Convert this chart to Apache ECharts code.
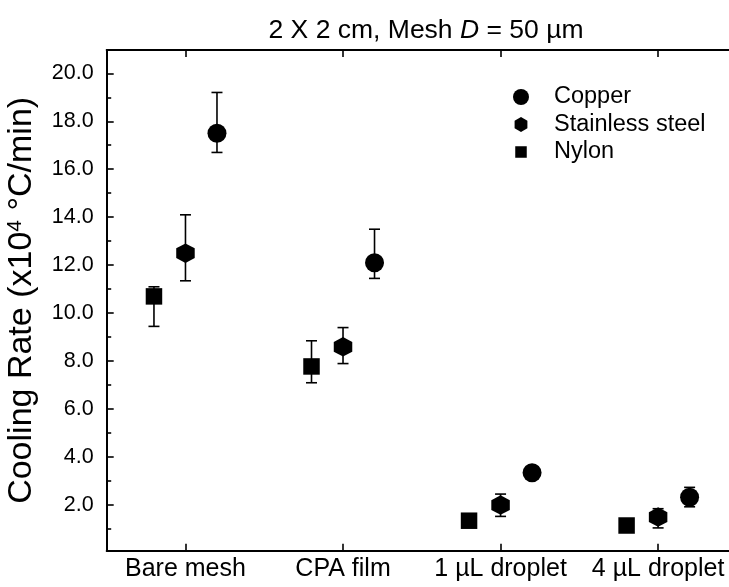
<!DOCTYPE html>
<html><head><meta charset="utf-8">
<script src="https://cdn.jsdelivr.net/npm/echarts@6/dist/echarts.min.js"></script>
<style>html,body{margin:0;padding:0;background:#fff}#c{width:729px;height:587px}</style>
</head><body><div id="c"></div>
<script>
// ---- data ----
const categories = ['Bare mesh', 'CPA film', '1 µL droplet', '4 µL droplet'];
const yTickValues = [2, 4, 6, 8, 10, 12, 14, 16, 18, 20];
const yMinorTickValues = [1, 3, 5, 7, 9, 11, 13, 15, 17, 19];
const copper = [17.5, 12.1, 3.35, 2.33];
const copperHigh = [19.2, 13.5, 3.35, 2.74];
const copperLow = [16.7, 11.45, 3.35, 1.93];
const stainless = [12.5, 8.6, 2.0, 1.5];
const stainlessHigh = [14.1, 9.4, 2.46, 1.85];
const stainlessLow = [11.35, 7.9, 1.53, 1.05];
const nylon = [10.7, 7.78, 1.35, 1.15];
const nylonHigh = [11.1, 8.85, 1.35, 1.15];
const nylonLow = [9.45, 7.1, 1.35, 1.15];

// ---- style ----
const FONT = "'Liberation Sans', Arial, sans-serif";
const HEX = 'path://M0,-1 L0.866,-0.5 L0.866,0.5 L0,1 L-0.866,0.5 L-0.866,-0.5 Z';
const HEX_LEG = 'path://M-1,-1 M1,1 M0,-0.95 L0.8,-0.48 L0.8,0.48 L0,0.95 L-0.8,0.48 L-0.8,-0.48 Z';
const SQ_LEG = 'path://M-1,-1 M1,1 M-0.72,-0.72 L0.72,-0.72 L0.72,0.72 L-0.72,0.72 Z';
const CIR_LEG = 'circle';
const offsets = { Nylon: -0.2, 'Stainless steel': 0, Copper: 0.2 };

function pts(vals, off) { return vals.map((v, i) => [i + 1 + off, v]); }
function errs(lo, hi, off) { return lo.map((l, i) => [i + 1 + off, l, hi[i]]); }

function errRenderItem(params, api) {
  const x = api.value(0), lo = api.value(1), hi = api.value(2);
  if (lo === hi) return null;
  const a = api.coord([x, hi]), b = api.coord([x, lo]);
  const hw = 5.5;
  const st = { stroke: '#000', lineWidth: 1.6 };
  return { type: 'group', children: [
    { type: 'line', shape: { x1: a[0], y1: a[1], x2: b[0], y2: b[1] }, style: st },
    { type: 'line', shape: { x1: a[0] - hw, y1: a[1], x2: a[0] + hw, y2: a[1] }, style: st },
    { type: 'line', shape: { x1: b[0] - hw, y1: b[1], x2: b[0] + hw, y2: b[1] }, style: st }
  ]};
}

const chart = echarts.init(document.getElementById('c'), null, { renderer: 'canvas' });
const axisLine = { show: true, lineStyle: { color: '#000', width: 2 } };
const xTickVals = categories.map((c, i) => i + 1);

chart.setOption({
  animation: false,
  backgroundColor: '#fff',
  textStyle: { fontFamily: FONT },
  title: {
    left: 421, top: 12, textAlign: 'center',
    text: '{a|2 X 2 cm, Mesh }{i|D}{a| = 50 µm}',
    textStyle: { fontWeight: 'normal', rich: {
      a: { fontSize: 26.5, color: '#000', fontFamily: FONT, fontWeight: 'normal' },
      i: { fontSize: 26.5, color: '#000', fontFamily: FONT, fontWeight: 'normal', fontStyle: 'italic' }
    } }
  },
  legend: {
    orient: 'vertical', left: 508, top: 80,
    itemWidth: 16, itemHeight: 16, itemGap: 3.5,
    textStyle: { fontSize: 23.5, color: '#000', fontFamily: FONT, lineHeight: 16, padding: [0, 0, 0, 20] },
    data: [
      { name: 'Copper', icon: CIR_LEG },
      { name: 'Stainless steel', icon: HEX_LEG },
      { name: 'Nylon', icon: SQ_LEG }
    ]
  },
  grid: { left: 106.7, right: 0, top: 50, bottom: 36.3, containLabel: false, outerBoundsMode: 'none' },
  xAxis: [
    {
      type: 'value', min: 0.5, max: 4.45, position: 'bottom',
      splitLine: { show: false }, axisLine: axisLine,
      axisTick: { show: true, inside: true, length: 7, lineStyle: { color: '#000', width: 1.6 },
                  customValues: xTickVals },
      axisLabel: { show: true, margin: 6, fontSize: 25, color: '#000', fontFamily: FONT,
                   customValues: xTickVals,
                   formatter: v => categories[Math.round(v) - 1] || '' }
    },
    {
      type: 'value', min: 0.5, max: 4.45, position: 'top',
      splitLine: { show: false }, axisLine: axisLine,
      axisTick: { show: true, inside: true, length: 7, lineStyle: { color: '#000', width: 1.6 },
                  customValues: xTickVals },
      axisLabel: { show: false }
    }
  ],
  yAxis: [
    {
      type: 'value', min: 0.1, max: 20.97, position: 'left',
      name: '{a|Cooling Rate (x10}{s|4}{a| °C/min)}',
      nameLocation: 'middle', nameGap: 68,
      nameTextStyle: { rich: {
        a: { fontSize: 34, color: '#000', fontFamily: FONT },
        s: { fontSize: 21, color: '#000', fontFamily: FONT, verticalAlign: 'top' }
      } },
      splitLine: { show: false }, axisLine: axisLine,
      axisTick: { show: true, inside: true, length: 7, lineStyle: { color: '#000', width: 1.6 },
                  customValues: yTickValues },
      axisLabel: { show: true, margin: 13, fontSize: 21.5, color: '#000', fontFamily: FONT,
                   customValues: yTickValues, formatter: v => v.toFixed(1) }
    },
    {
      type: 'value', min: 0.1, max: 20.97, position: 'left',
      splitLine: { show: false }, axisLine: { show: false },
      axisTick: { show: true, inside: true, length: 4.5, lineStyle: { color: '#000', width: 1.6 },
                  customValues: yMinorTickValues },
      axisLabel: { show: false }
    }
  ],
  series: [
    { type: 'custom', name: 'errN', renderItem: errRenderItem, encode: { x: 0, y: [1, 2] },
      data: errs(nylonLow, nylonHigh, offsets.Nylon), z: 1, silent: true },
    { type: 'custom', name: 'errS', renderItem: errRenderItem, encode: { x: 0, y: [1, 2] },
      data: errs(stainlessLow, stainlessHigh, offsets['Stainless steel']), z: 1, silent: true },
    { type: 'custom', name: 'errC', renderItem: errRenderItem, encode: { x: 0, y: [1, 2] },
      data: errs(copperLow, copperHigh, offsets.Copper), z: 1, silent: true },
    { type: 'scatter', name: 'Copper', symbol: 'circle', symbolSize: 19,
      itemStyle: { color: '#000', opacity: 1 }, data: pts(copper, offsets.Copper), z: 3 },
    { type: 'scatter', name: 'Stainless steel', symbol: HEX, symbolSize: [18.5, 19.5], symbolKeepAspect: false,
      itemStyle: { color: '#000', opacity: 1 }, data: pts(stainless, offsets['Stainless steel']), z: 3 },
    { type: 'scatter', name: 'Nylon', symbol: 'rect', symbolSize: 16.5,
      itemStyle: { color: '#000', opacity: 1 }, data: pts(nylon, offsets.Nylon), z: 3 }
  ]
});
</script>
</body></html>
